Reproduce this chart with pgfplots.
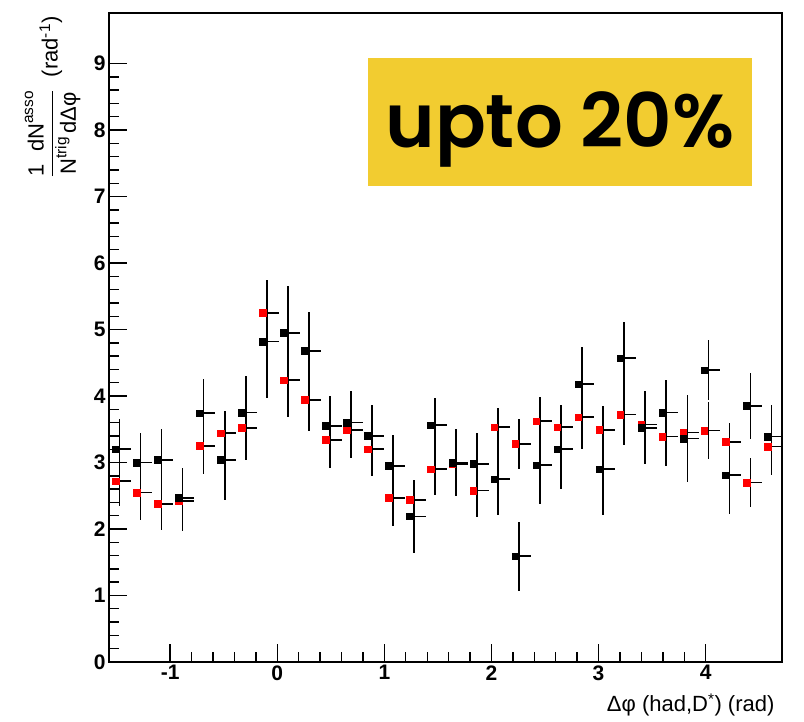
\documentclass[border=0pt]{standalone}
\usepackage{fontspec}
\setmainfont{Liberation Sans}
\newfontfamily\pop{Poppins SemiBold}
\usepackage{amsmath}
\usepackage{pgfplots}
\pgfplotsset{compat=1.18}
\usepackage{pgfplotstable}
\definecolor{boxyellow}{RGB}{242,204,48}

\pgfplotstableread{
x yb eb yr er
-1.4726 3.20 0.45 2.72 0.38
-1.2763 3.00 0.44 2.55 0.41
-1.0799 3.04 0.46 2.38 0.39
-0.8836 2.47 0.45 2.42 0.45
-0.6872 3.74 0.51 3.25 0.43
-0.4909 3.04 0.60 3.44 0.33
-0.2945 3.75 0.55 3.52 0.48
-0.0982 4.82 0.85 5.25 0.50
0.0982 4.95 0.70 4.24 0.55
0.2945 4.68 0.59 3.94 0.47
0.4909 3.55 0.45 3.34 0.42
0.6872 3.60 0.47 3.49 0.42
0.8836 3.40 0.46 3.20 0.41
1.0799 2.95 0.46 2.47 0.43
1.2763 2.19 0.55 2.44 0.25
1.4726 3.56 0.41 2.90 0.39
1.6690 3.00 0.50 2.98 0.48
1.8653 2.98 0.46 2.58 0.40
2.0617 2.75 0.54 3.53 0.29
2.2580 1.59 0.52 3.28 0.38
2.4544 2.96 0.59 3.62 0.37
2.6507 3.20 0.60 3.53 0.33
2.8471 4.18 0.56 3.68 0.47
3.0434 2.90 0.69 3.49 0.36
3.2398 4.57 0.55 3.72 0.45
3.4361 3.52 0.55 3.57 0.50
3.6325 3.75 0.49 3.39 0.44
3.8288 3.36 0.65 3.45 0.39
4.0252 4.39 0.45 3.48 0.43
4.2215 2.81 0.58 3.31 0.29
4.4179 3.85 0.50 2.70 0.37
4.6142 3.39 0.47 3.24 0.43
}\data

\begin{document}
\begin{tikzpicture}
\path[use as bounding box] (-109pt,-60pt) rectangle (695pt,662pt);
\begin{axis}[
  at={(0pt,0pt)}, anchor=south west, scale only axis,
  width=673pt, height=649pt,
  xmin=-1.5708, xmax=4.7124, ymin=0, ymax=9.76,
  xtick={-1,0,1,2,3,4}, ytick={0,1,...,9},
  minor x tick num=4, minor y tick num=4,
  xtick pos=bottom, ytick pos=left, tick align=inside,
  major tick length=18pt, minor tick length=10pt,
  every tick/.style={black, line width=1.4pt},
  axis line style={line width=1.6pt},
  tick label style={font=\fontsize{21}{21}\selectfont\bfseries},
  /pgf/number format/assume math mode=true,
  xlabel={Δφ (had,D\textsuperscript{*}) (rad)},
  xlabel style={at={(axis description cs:1,0)}, anchor=base east, yshift=-50pt, xshift=-4pt, font=\fontsize{22}{22}\selectfont},
  ylabel={$\dfrac{\text{1 \ dN}^{\text{asso}}}{\text{N}^{\text{trig}}\,\text{dΔφ}}$ \ (rad\textsuperscript{-1})},
  ylabel style={at={(axis description cs:-0.037,1)}, anchor=south east, font=\fontsize{22}{22}\selectfont},
  clip=true,
]
\addplot[draw=none, mark=none, forget plot,
  error bars/.cd, y dir=both, y explicit, x dir=plus, x explicit, error mark=none,
  error bar style={draw=black, solid, line width=1.7pt}]
  table[x=x, y=yr, y error=er, x error expr={0.11}] {\data};
\addplot[draw=none, mark=none, forget plot,
  error bars/.cd, y dir=both, y explicit, x dir=plus, x explicit, error mark=none,
  error bar style={draw=black, solid, line width=1.7pt}]
  table[x=x, y=yb, y error=eb, x error expr={0.11}] {\data};
\addplot[only marks, mark=square*, mark size=3.3pt, mark options={fill=red, draw=red, xshift=-4pt}]
  table[x=x, y=yr] {\data};
\addplot[only marks, mark=square*, mark size=3.3pt, mark options={fill=black, draw=black, xshift=-4pt}]
  table[x=x, y=yb] {\data};
\end{axis}
\fill[boxyellow] (259pt,476pt) rectangle (643pt,604pt);
\node[anchor=base, inner sep=0pt, font={\fontsize{75}{77}\selectfont\pop}] at (451pt,514pt) {upto 20\%};
\end{tikzpicture}
\end{document}
